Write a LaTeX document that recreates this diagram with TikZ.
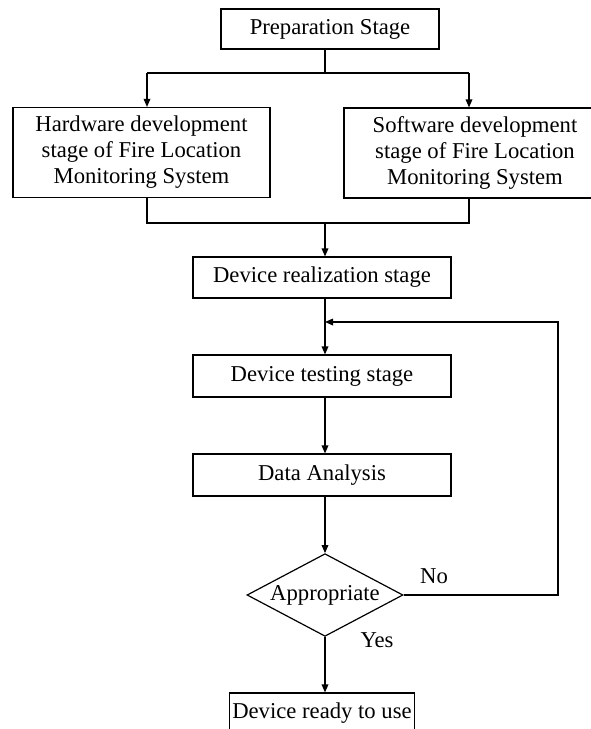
\documentclass[tikz,border=0pt]{standalone}
\usepackage{fontspec}
\setmainfont{Liberation Serif}
\usetikzlibrary{arrows.meta,shapes.geometric}

\begin{document}
\begin{tikzpicture}[x=0.75pt,y=-0.75pt,
  stagebox/.style={draw,line width=0.9pt,rectangle,inner sep=2pt,align=center,font=\fontsize{17}{19.5}\selectfont},
  decision/.style={draw,line width=0.9pt,diamond,inner sep=0pt,shape aspect=1.88,minimum width=117pt,minimum height=62pt,font=\fontsize{17}{19.5}\selectfont},
  flow/.style={line width=0.9pt,-{Triangle[length=6pt,width=5pt]}},
  plain/.style={line width=0.9pt},
  answer/.style={font=\fontsize{17}{19.5}\selectfont}]
\useasboundingbox (0,0) rectangle (591,729);
\clip (0,0) rectangle (591,729);
\node[stagebox,minimum width=163.5pt,minimum height=30pt] (prep) at (330,29) {Preparation Stage};
\node[stagebox,minimum width=192.75pt,minimum height=67.5pt] (hw) at (141.5,152.5) {Hardware development\\stage of Fire Location\\Monitoring System};
\node[stagebox,minimum width=196.5pt,minimum height=67.5pt] (sw) at (475,153) {Software development\\stage of Fire Location\\Monitoring System};
\node[stagebox,minimum width=193.5pt,minimum height=30.75pt] (real) at (322,277.5) {Device realization stage};
\node[stagebox,minimum width=193.5pt,minimum height=31.5pt] (test) at (322,376) {Device testing stage};
\node[stagebox,minimum width=193.5pt,minimum height=31.5pt] (data) at (322,475) {Data Analysis};
\node[decision] (appr) at (325,595) {Appropriate};
\node[stagebox,minimum width=136.5pt,minimum height=30pt] (ready) at (322,713) {Device ready to use};
\node[answer] (no) at (434,576) {No};
\node[answer] (yes) at (377,640) {Yes};
\coordinate (top) at (325,73);
\coordinate (lt) at (147,73);
\coordinate (rt) at (469,73);
\coordinate (lb) at (147,223);
\coordinate (rb) at (469,223);
\coordinate (mid) at (325,223);
\coordinate (fb) at (558,322);
\draw[plain] (prep.south -| top) -- (top);
\draw[plain] (lt) -- (rt);
\draw[flow] (lt) -- (lt |- hw.north);
\draw[flow] (rt) -- (rt |- sw.north);
\draw[plain] (lb |- hw.south) -- (lb) -- (rb) -- (rb |- sw.south);
\draw[flow] (mid) -- (mid |- real.north);
\draw[flow] (real.south -| top) -- (test.north -| top);
\draw[flow] (test.south -| top) -- (data.north -| top);
\draw[flow] (data.south -| top) -- (appr.north);
\draw[flow] (appr.east) -| (fb) -- (fb -| top);
\draw[flow] (appr.south) -- (ready.north -| appr.south);
\end{tikzpicture}
\end{document}
